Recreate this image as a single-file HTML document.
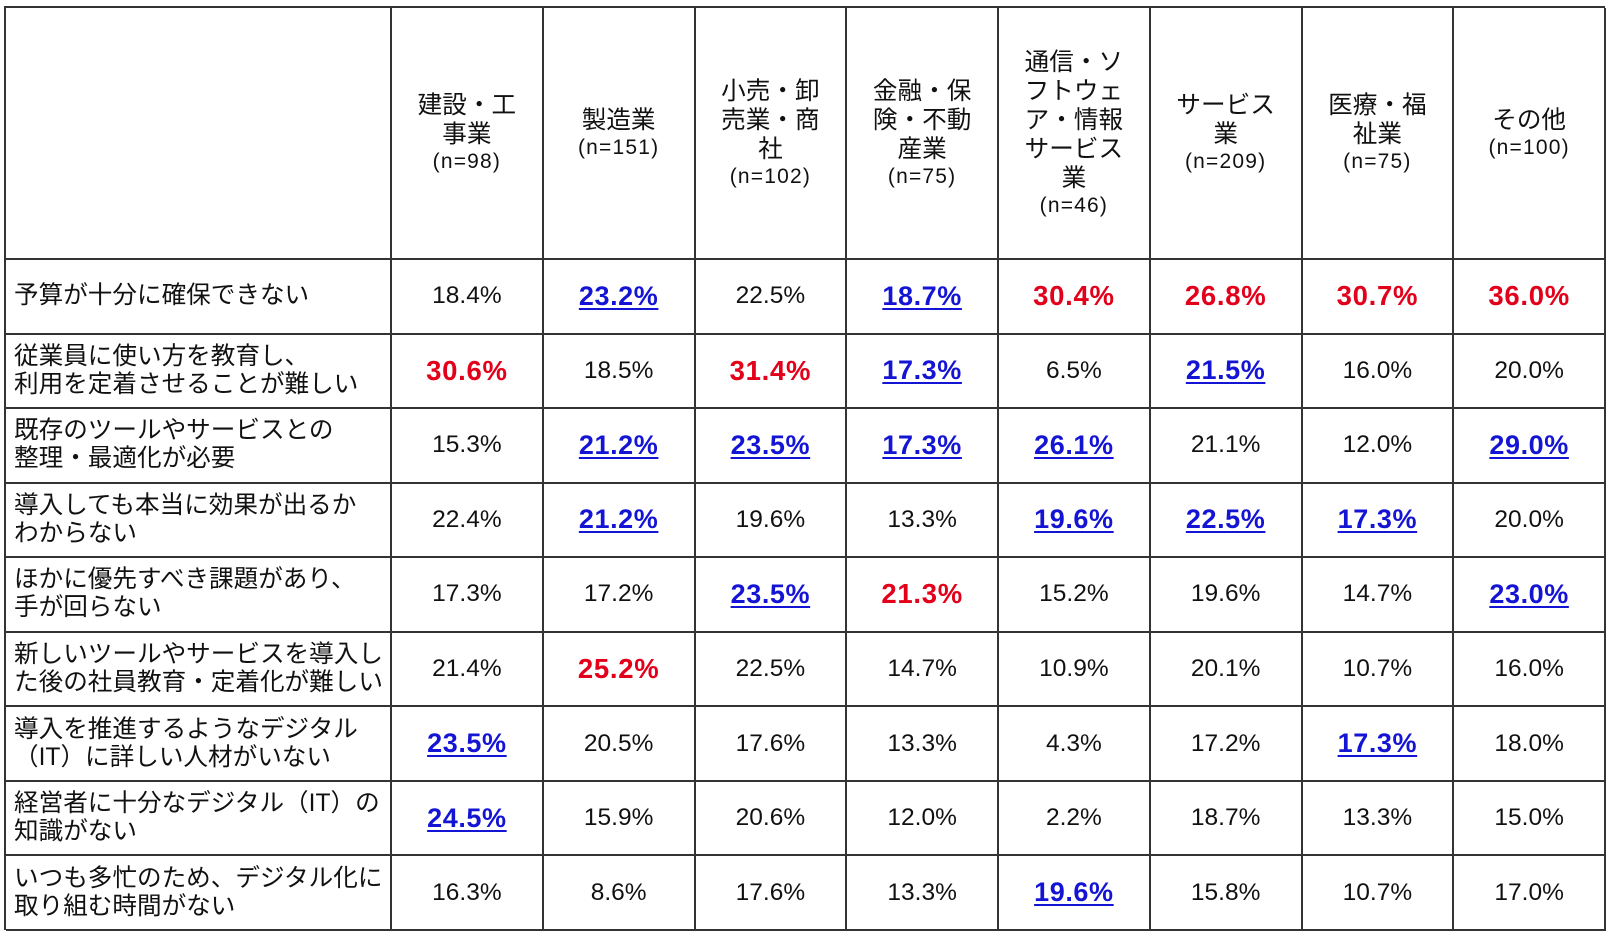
<!DOCTYPE html>
<html>
<head>
<meta charset="utf-8">
<style>
  html, body { margin:0; padding:0; background:#fff; }
  body { width:1614px; height:938px; position:relative; overflow:hidden;
         font-family:"Liberation Sans","Noto Sans CJK JP",sans-serif; color:#111; }
  .grid { position:absolute; left:4px; top:6px; width:1601px; height:924px;
          display:grid;
          grid-template-columns: 386px repeat(8, 151.75px);
          grid-template-rows: 252px repeat(9, 74.556px);
          border-left:2px solid #333; border-top:2px solid #333; box-sizing:border-box; }
  .c { box-sizing:border-box; border-right:2px solid #333; border-bottom:2px solid #333;
       display:flex; align-items:center; justify-content:center; text-align:center; }
  .h { flex-direction:column; font-size:24.6px; line-height:29px; white-space:nowrap; }
  .h .n { font-size:21px; line-height:26px; letter-spacing:1.2px; }
  .l { justify-content:flex-start; text-align:left; padding-left:8px; font-size:24.6px;
       line-height:28px; white-space:nowrap; }
  .v { font-size:24.5px; }
  .r { font-size:27.5px; font-weight:bold; color:#e2001a; letter-spacing:0.7px; }
  .b { font-size:27px; font-weight:bold; color:#1414d4; text-decoration:underline;
       text-decoration-thickness:2px; text-underline-offset:3px; letter-spacing:0.6px; }
</style>
</head>
<body>
<div class="grid">
  <!-- header -->
  <div class="c"></div>
  <div class="c h"><div>建設・工</div><div>事業</div><div class="n">(n=98)</div></div>
  <div class="c h"><div>製造業</div><div class="n">(n=151)</div></div>
  <div class="c h"><div>小売・卸</div><div>売業・商</div><div>社</div><div class="n">(n=102)</div></div>
  <div class="c h"><div>金融・保</div><div>険・不動</div><div>産業</div><div class="n">(n=75)</div></div>
  <div class="c h"><div>通信・ソ</div><div>フトウェ</div><div>ア・情報</div><div>サービス</div><div>業</div><div class="n">(n=46)</div></div>
  <div class="c h"><div>サービス</div><div>業</div><div class="n">(n=209)</div></div>
  <div class="c h"><div>医療・福</div><div>祉業</div><div class="n">(n=75)</div></div>
  <div class="c h"><div>その他</div><div class="n">(n=100)</div></div>

  <!-- row 1 -->
  <div class="c l">予算が十分に確保できない</div>
  <div class="c"><span class="v">18.4%</span></div>
  <div class="c"><span class="b">23.2%</span></div>
  <div class="c"><span class="v">22.5%</span></div>
  <div class="c"><span class="b">18.7%</span></div>
  <div class="c"><span class="r">30.4%</span></div>
  <div class="c"><span class="r">26.8%</span></div>
  <div class="c"><span class="r">30.7%</span></div>
  <div class="c"><span class="r">36.0%</span></div>

  <!-- row 2 -->
  <div class="c l">従業員に使い方を教育し、<br>利用を定着させることが難しい</div>
  <div class="c"><span class="r">30.6%</span></div>
  <div class="c"><span class="v">18.5%</span></div>
  <div class="c"><span class="r">31.4%</span></div>
  <div class="c"><span class="b">17.3%</span></div>
  <div class="c"><span class="v">6.5%</span></div>
  <div class="c"><span class="b">21.5%</span></div>
  <div class="c"><span class="v">16.0%</span></div>
  <div class="c"><span class="v">20.0%</span></div>

  <!-- row 3 -->
  <div class="c l">既存のツールやサービスとの<br>整理・最適化が必要</div>
  <div class="c"><span class="v">15.3%</span></div>
  <div class="c"><span class="b">21.2%</span></div>
  <div class="c"><span class="b">23.5%</span></div>
  <div class="c"><span class="b">17.3%</span></div>
  <div class="c"><span class="b">26.1%</span></div>
  <div class="c"><span class="v">21.1%</span></div>
  <div class="c"><span class="v">12.0%</span></div>
  <div class="c"><span class="b">29.0%</span></div>

  <!-- row 4 -->
  <div class="c l">導入しても本当に効果が出るか<br>わからない</div>
  <div class="c"><span class="v">22.4%</span></div>
  <div class="c"><span class="b">21.2%</span></div>
  <div class="c"><span class="v">19.6%</span></div>
  <div class="c"><span class="v">13.3%</span></div>
  <div class="c"><span class="b">19.6%</span></div>
  <div class="c"><span class="b">22.5%</span></div>
  <div class="c"><span class="b">17.3%</span></div>
  <div class="c"><span class="v">20.0%</span></div>

  <!-- row 5 -->
  <div class="c l">ほかに優先すべき課題があり、<br>手が回らない</div>
  <div class="c"><span class="v">17.3%</span></div>
  <div class="c"><span class="v">17.2%</span></div>
  <div class="c"><span class="b">23.5%</span></div>
  <div class="c"><span class="r">21.3%</span></div>
  <div class="c"><span class="v">15.2%</span></div>
  <div class="c"><span class="v">19.6%</span></div>
  <div class="c"><span class="v">14.7%</span></div>
  <div class="c"><span class="b">23.0%</span></div>

  <!-- row 6 -->
  <div class="c l">新しいツールやサービスを導入し<br>た後の社員教育・定着化が難しい</div>
  <div class="c"><span class="v">21.4%</span></div>
  <div class="c"><span class="r">25.2%</span></div>
  <div class="c"><span class="v">22.5%</span></div>
  <div class="c"><span class="v">14.7%</span></div>
  <div class="c"><span class="v">10.9%</span></div>
  <div class="c"><span class="v">20.1%</span></div>
  <div class="c"><span class="v">10.7%</span></div>
  <div class="c"><span class="v">16.0%</span></div>

  <!-- row 7 -->
  <div class="c l">導入を推進するようなデジタル<br>（IT）に詳しい人材がいない</div>
  <div class="c"><span class="b">23.5%</span></div>
  <div class="c"><span class="v">20.5%</span></div>
  <div class="c"><span class="v">17.6%</span></div>
  <div class="c"><span class="v">13.3%</span></div>
  <div class="c"><span class="v">4.3%</span></div>
  <div class="c"><span class="v">17.2%</span></div>
  <div class="c"><span class="b">17.3%</span></div>
  <div class="c"><span class="v">18.0%</span></div>

  <!-- row 8 -->
  <div class="c l">経営者に十分なデジタル（IT）の<br>知識がない</div>
  <div class="c"><span class="b">24.5%</span></div>
  <div class="c"><span class="v">15.9%</span></div>
  <div class="c"><span class="v">20.6%</span></div>
  <div class="c"><span class="v">12.0%</span></div>
  <div class="c"><span class="v">2.2%</span></div>
  <div class="c"><span class="v">18.7%</span></div>
  <div class="c"><span class="v">13.3%</span></div>
  <div class="c"><span class="v">15.0%</span></div>

  <!-- row 9 -->
  <div class="c l">いつも多忙のため、デジタル化に<br>取り組む時間がない</div>
  <div class="c"><span class="v">16.3%</span></div>
  <div class="c"><span class="v">8.6%</span></div>
  <div class="c"><span class="v">17.6%</span></div>
  <div class="c"><span class="v">13.3%</span></div>
  <div class="c"><span class="b">19.6%</span></div>
  <div class="c"><span class="v">15.8%</span></div>
  <div class="c"><span class="v">10.7%</span></div>
  <div class="c"><span class="v">17.0%</span></div>
</div>
</body>
</html>
